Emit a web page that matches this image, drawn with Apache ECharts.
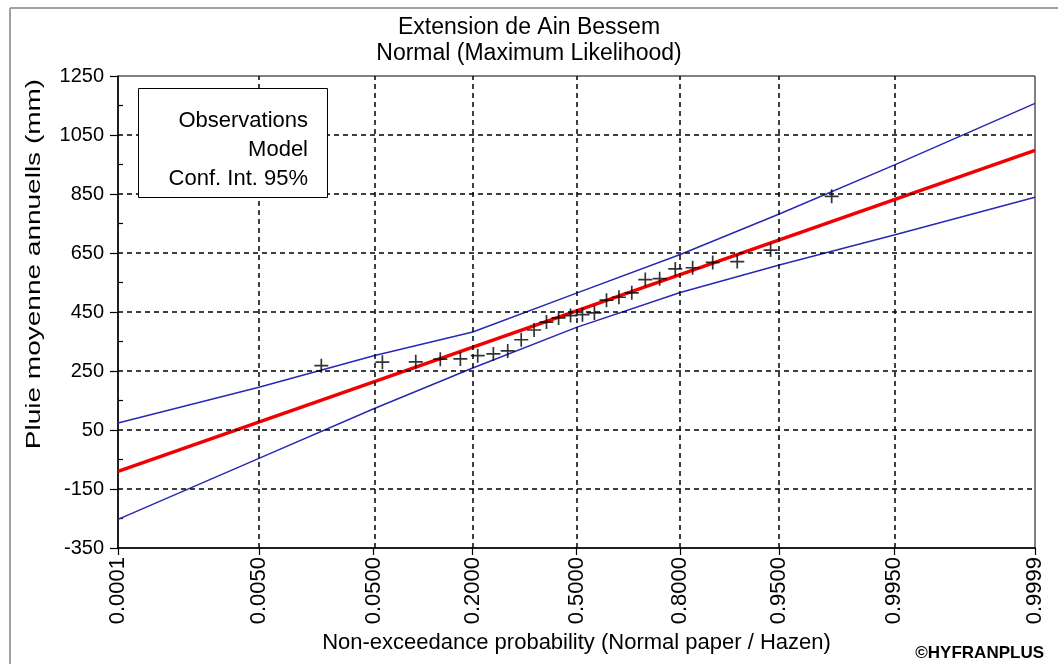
<!DOCTYPE html>
<html><head><meta charset="utf-8">
<script src="https://cdn.jsdelivr.net/npm/echarts@6/dist/echarts.min.js"></script>
<style>html,body{margin:0;padding:0;background:#fff}#c{width:1058px;height:664px}</style>
</head><body><div id="c"></div>
<script>
// ---- data ----
const probTicks   = [0.0001, 0.005, 0.05, 0.2, 0.5, 0.8, 0.95, 0.995, 0.9999];
const probLabels  = ['0.0001','0.0050','0.0500','0.2000','0.5000','0.8000','0.9500','0.9950','0.9999'];
const yTicks      = [-350, -150, 50, 250, 450, 650, 850, 1050, 1250];
const yMinorTicks = [-250, -50, 150, 350, 550, 750, 950, 1150];
// sorted annual rainfall observations (mm), plotted at Hazen positions
const observations = [268, 280, 281, 290, 291, 302, 308, 318, 356, 389, 416, 430, 438,
                      441, 447, 490, 500, 515, 560, 563, 596, 600, 618, 621, 660, 842];
// model (normal, ML) values at p = 0.0001 and p = 0.9999
const modelProbs  = [0.0001, 0.9999];
const modelValues = [-90, 998];
// 95% confidence interval values at the probability ticks
const ciUpper = [74, 195, 302, 382, 514, 645, 782, 948, 1157];
const ciLower = [-253, -46, 122, 260, 398, 516, 609, 711, 839];

// ---- normal probability paper (inverse normal CDF) ----
function probit(p){
  const a=[-3.969683028665376e+01,2.209460984245205e+02,-2.759285104469687e+02,1.383577518672690e+02,-3.066479806614716e+01,2.506628277459239e+00];
  const b=[-5.447609879822406e+01,1.615858368580409e+02,-1.556989798598866e+02,6.680131188771972e+01,-1.328068155288572e+01];
  const c=[-7.784894002430293e-03,-3.223964580411365e-01,-2.400758277161838e+00,-2.549732539343734e+00,4.374664141464968e+00,2.938163982698783e+00];
  const d=[7.784695709041462e-03,3.224671290700398e-01,2.445134137142996e+00,3.754408661907416e+00];
  const pl=0.02425;
  if(p<pl){const q=Math.sqrt(-2*Math.log(p));return (((((c[0]*q+c[1])*q+c[2])*q+c[3])*q+c[4])*q+c[5])/((((d[0]*q+d[1])*q+d[2])*q+d[3])*q+1);}
  if(p>1-pl){const q=Math.sqrt(-2*Math.log(1-p));return -(((((c[0]*q+c[1])*q+c[2])*q+c[3])*q+c[4])*q+c[5])/((((d[0]*q+d[1])*q+d[2])*q+d[3])*q+1);}
  const q=p-0.5,r=q*q;return (((((a[0]*r+a[1])*r+a[2])*r+a[3])*r+a[4])*r+a[5])*q/(((((b[0]*r+b[1])*r+b[2])*r+b[3])*r+b[4])*r+1);
}
const zTicks = probTicks.map(probit);
const xMin = zTicks[0], xMax = zTicks[zTicks.length-1];
const n = observations.length;
const obsData = observations.map((v,i)=>[probit((i+1-0.5)/n), v]);
const modelData = modelProbs.map((p,i)=>[probit(p), modelValues[i]]);
const upperData = zTicks.map((z,i)=>[z, ciUpper[i]]);
const lowerData = zTicks.map((z,i)=>[z, ciLower[i]]);
function labelFor(v){
  for(let i=0;i<zTicks.length;i++){ if(Math.abs(zTicks[i]-v)<1e-6) return probLabels[i]; }
  return '';
}

const FONT = 'Liberation Sans, Arial, sans-serif';
const chart = echarts.init(document.getElementById('c'), null, {renderer:'canvas'});
const gridLines = zTicks.slice(1,-1).map(z=>({xAxis:z})).concat(yTicks.slice(1,-1).map(v=>({yAxis:v})));

chart.setOption({
  animation:false,
  backgroundColor:'#fff',
  textStyle:{fontFamily:FONT, color:'#000'},
  title:{
    text:'Extension de Ain Bessem\nNormal (Maximum Likelihood)',
    left:'center', top:10,
    textStyle:{fontFamily:FONT, fontSize:23, fontWeight:'normal', color:'#000', lineHeight:26}
  },
  grid:{left:118, right:23, top:76, bottom:116, show:true, borderColor:'#000', borderWidth:1, containLabel:false, outerBoundsMode:'none'},
  xAxis:{
    type:'value', min:xMin, max:xMax,
    axisLine:{show:true, onZero:false, lineStyle:{color:'#000', width:1.5}},
    axisTick:{show:true, customValues:zTicks, length:7, lineStyle:{color:'#000', width:1.2}},
    axisLabel:{show:true, customValues:zTicks, rotate:90, fontSize:22, color:'#000', margin:9, fontFamily:FONT, formatter:labelFor},
    splitLine:{show:false},
    name:'Non-exceedance probability (Normal paper / Hazen)',
    nameLocation:'middle', nameGap:81,
    nameTextStyle:{fontSize:22, color:'#000', fontFamily:FONT}
  },
  yAxis:[{
    type:'value', min:-350, max:1250,
    axisLine:{show:true, onZero:false, lineStyle:{color:'#000', width:1.5}},
    axisTick:{show:true, customValues:yTicks, length:8, lineStyle:{color:'#000', width:1.2}},
    axisLabel:{show:true, customValues:yTicks, fontSize:20, color:'#000', margin:14, fontFamily:FONT,
      formatter:function(v){ return String(Math.round(v)); }},
    splitLine:{show:false}
  },{
    type:'value', min:-350, max:1250, position:'left', offset:0,
    axisLine:{show:false, onZero:false},
    axisTick:{show:true, inside:true, customValues:yMinorTicks, length:5, lineStyle:{color:'#000', width:1.2}},
    axisLabel:{show:false},
    splitLine:{show:false}
  }],
  graphic:[
    {type:'line', shape:{x1:10,y1:8,x2:1058,y2:8}, style:{stroke:'#a0a0a0', lineWidth:2}, silent:true},
    {type:'line', shape:{x1:10,y1:8,x2:10,y2:664}, style:{stroke:'#a0a0a0', lineWidth:2}, silent:true},
    {type:'text', x:34, y:264, rotation:Math.PI/2, scaleX:1.4, z:10,
      style:{text:'Pluie moyenne annuells (mm)', fontFamily:FONT, fontSize:20, fill:'#000', align:'center', verticalAlign:'middle'}},
    {type:'rect', shape:{x:138.5, y:88.5, width:189, height:109}, style:{fill:'#fff', stroke:'#000', lineWidth:1}, z:20},
    {type:'text', x:308, y:121, z:21, style:{text:'Observations', fontFamily:FONT, fontSize:22, fill:'#000', align:'right', verticalAlign:'middle'}},
    {type:'text', x:308, y:150, z:21, style:{text:'Model', fontFamily:FONT, fontSize:22, fill:'#000', align:'right', verticalAlign:'middle'}},
    {type:'text', x:308, y:179, z:21, style:{text:'Conf. Int. 95%', fontFamily:FONT, fontSize:22, fill:'#000', align:'right', verticalAlign:'middle'}},
    {type:'text', x:1044, y:653, z:21, style:{text:'©HYFRANPLUS', fontFamily:FONT, fontSize:17, fontWeight:'bold', fill:'#000', align:'right', verticalAlign:'middle'}}
  ],
  series:[
    {type:'line', data:[], z:1, silent:true,
      markLine:{silent:true, symbol:['none','none'], label:{show:false}, animation:false,
        lineStyle:{type:[5,4], color:'#000', width:1.5}, emphasis:{disabled:true}, data:gridLines}},
    {type:'line', name:'Conf. Int. 95% (upper)', data:upperData, showSymbol:false, z:3, silent:true,
      lineStyle:{color:'#2828b4', width:1.5}},
    {type:'line', name:'Conf. Int. 95% (lower)', data:lowerData, showSymbol:false, z:3, silent:true,
      lineStyle:{color:'#2828b4', width:1.5}},
    {type:'line', name:'Model', data:modelData, showSymbol:false, z:4, silent:true,
      lineStyle:{color:'#f00000', width:3.5}},
    {type:'scatter', name:'Observations', data:obsData, z:5, silent:true,
      symbol:'path://M0,5L10,5M5,0L5,10', symbolSize:14,
      itemStyle:{color:'none', borderColor:'#000', borderWidth:1.7}}
  ]
});
</script></body></html>
